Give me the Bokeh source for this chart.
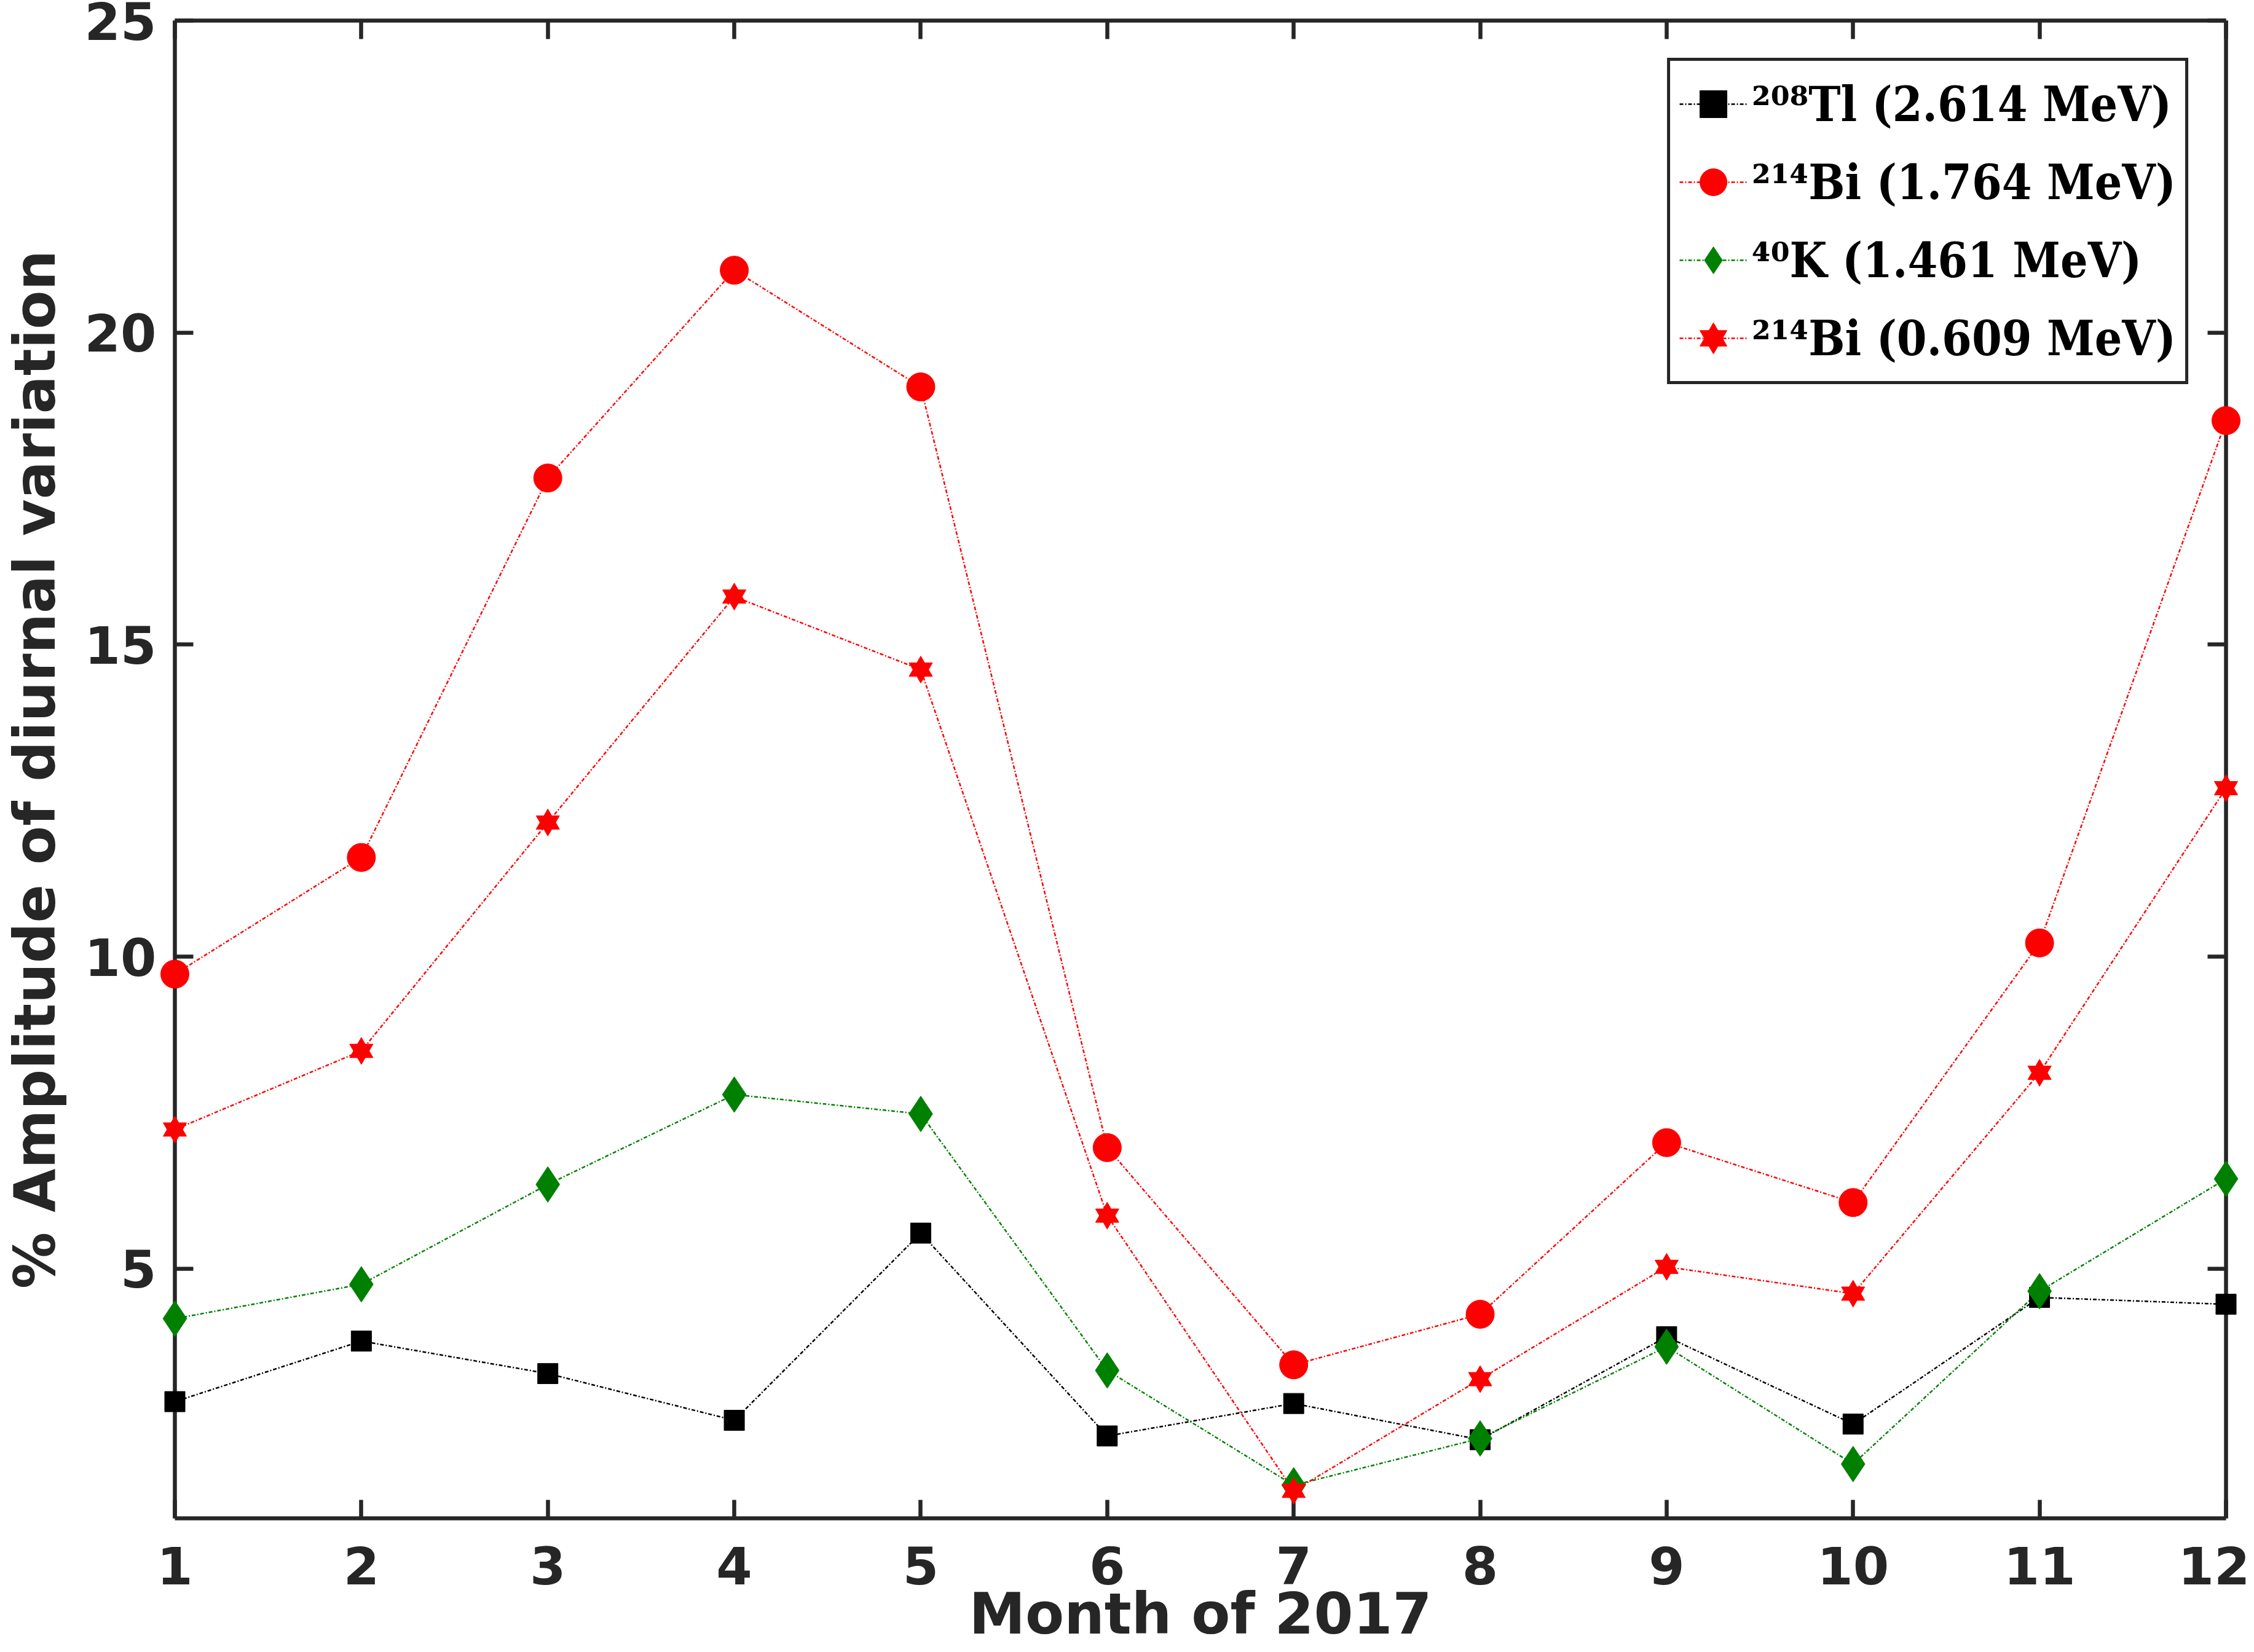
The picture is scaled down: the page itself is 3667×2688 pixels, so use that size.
from bokeh.plotting import figure
from bokeh.models import (Range1d, FixedTicker, LinearAxis, Legend, LegendItem,
                          CustomJSTickFormatter)
from bokeh.embed import file_html
from bokeh.resources import INLINE

# ---- data ----
months = list(range(1, 13))
tl_2614 = [2.87, 3.84, 3.32, 2.57, 5.57, 2.32, 2.84, 2.26, 3.91, 2.51, 4.54, 4.43]
bi_1764 = [9.72, 11.59, 17.67, 21.00, 19.13, 6.94, 3.46, 4.27, 7.02, 6.06, 10.22, 18.59]
k_1461 = [4.20, 4.75, 6.35, 7.79, 7.48, 3.37, 1.53, 2.28, 3.75, 1.87, 4.64, 6.44]
bi_0609 = [7.23, 8.49, 12.15, 15.77, 14.60, 5.85, 1.44, 3.23, 5.03, 4.60, 8.14, 12.70]

series_labels = ["²⁰⁸Tl (2.614 MeV)", "²¹⁴Bi (1.764 MeV)",
                 "⁴⁰K (1.461 MeV)", "²¹⁴Bi (0.609 MeV)"]
x_ticks = months
y_ticks = [5, 10, 15, 20, 25]
x_title = "Month of 2017"
y_title = "% Amplitude of diurnal variation"

AX = "#262626"
DASH = "6 3 2 3"
LW = 2.5

p = figure(width=3660, height=2684, output_backend="svg", toolbar_location=None,
           x_range=Range1d(1, 12), y_range=Range1d(1, 25),
           min_border_left=283, min_border_right=39, min_border_top=33,
           min_border_bottom=214, background_fill_color="white",
           border_fill_color="white")
p.xgrid.visible = False
p.ygrid.visible = False
p.outline_line_color = None


def style_axis(ax, ticks, show_labels):
    ax.ticker = FixedTicker(ticks=ticks)
    ax.minor_tick_line_color = None
    ax.major_tick_in = 30
    ax.major_tick_out = 0
    ax.major_tick_line_width = 6.5
    ax.major_tick_line_color = AX
    ax.axis_line_width = 6.5
    ax.axis_line_color = AX
    if show_labels:
        ax.major_label_text_font = "DejaVu Sans"
        ax.major_label_text_font_style = "bold"
        ax.major_label_text_font_size = "84px"
        ax.major_label_text_color = AX
        ax.axis_label_text_font = "DejaVu Sans"
        ax.axis_label_text_font_style = "bold"
        ax.axis_label_text_font_size = "92px"
        ax.axis_label_text_color = AX
    else:
        ax.formatter = CustomJSTickFormatter(code="return ''")
        ax.major_label_text_font_size = "0px"
        ax.major_label_standoff = 0


xa = p.xaxis[0]
ya = p.yaxis[0]
style_axis(xa, x_ticks, True)
style_axis(ya, y_ticks, True)
xa.axis_label = x_title
ya.axis_label = y_title
xa.major_label_standoff = 45
xa.axis_label_standoff = -8
ya.major_label_standoff = 30
ya.axis_label_standoff = 24
ya.major_label_orientation = "horizontal"

top_ax = LinearAxis()
right_ax = LinearAxis()
style_axis(top_ax, x_ticks, False)
style_axis(right_ax, y_ticks, False)
p.add_layout(top_ax, "above")
p.add_layout(right_ax, "right")

items = []

# 208Tl
l1 = p.line(months, tl_2614, line_color="black", line_width=LW, line_dash=DASH)
m1 = p.scatter(months, tl_2614, marker="square", size=33, fill_color="black",
               line_color="black", level="overlay")
items.append(LegendItem(label=series_labels[0], renderers=[l1, m1]))

# 214Bi 1.764
l2 = p.line(months, bi_1764, line_color="#FF0000", line_width=LW, line_dash=DASH)
m2 = p.scatter(months, bi_1764, marker="circle", size=46, fill_color="#FF0000",
               line_color="#FF0000", level="overlay")
items.append(LegendItem(label=series_labels[1], renderers=[l2, m2]))

# 40K
l3 = p.line(months, k_1461, line_color="#008000", line_width=LW, line_dash=DASH)
m3 = p.scatter(months, k_1461, marker="diamond", size=58, fill_color="#008000",
               line_color="#008000", level="overlay")
items.append(LegendItem(label=series_labels[2], renderers=[l3, m3]))

# 214Bi 0.609 (hexagram = triangle + inverted triangle)
l4 = p.line(months, bi_0609, line_color="#FF0000", line_width=LW, line_dash=DASH)
m4a = p.scatter(months, bi_0609, marker="triangle", size=38, fill_color="#FF0000",
                line_color="#FF0000", level="overlay")
m4b = p.scatter(months, bi_0609, marker="inverted_triangle", size=38,
                fill_color="#FF0000", line_color="#FF0000", level="overlay")
items.append(LegendItem(label=series_labels[3], renderers=[l4, m4a, m4b]))

legend = Legend(items=items, location="top_right", margin=61,
                border_line_color=AX, border_line_width=5, border_line_alpha=1.0,
                background_fill_color="white", background_fill_alpha=1.0,
                padding=15, spacing=17, glyph_width=110, glyph_height=110,
                label_height=110, label_standoff=8,
                label_text_font="DejaVu Serif Condensed",
                label_text_font_style="bold", label_text_font_size="78px",
                label_text_color="black")
p.add_layout(legend)

open("out.html", "w").write(file_html(p, INLINE))
